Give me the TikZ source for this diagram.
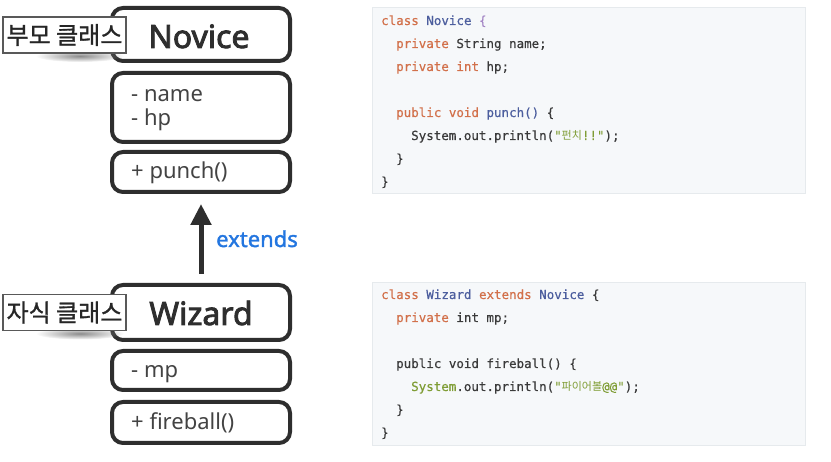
\documentclass[tikz,border=0pt]{standalone}
\usepackage{fontspec}
\setmainfont{Noto Sans}
\newfontfamily\heavy[FakeBold=2.6]{Noto Sans}
\newfontfamily\semiheavy[FakeBold=1.6]{Noto Sans}
\newfontfamily\krfont{Noto Sans CJK KR}
\newfontfamily\krtag[FakeBold=1.2]{Noto Sans CJK KR}
\newfontfamily\codefont[FakeBold=0.4]{DejaVu Sans Mono}
\usetikzlibrary{arrows.meta,fadings}
\definecolor{boxline}{HTML}{2E2E2E}
\definecolor{kwcol}{HTML}{D2704A}
\definecolor{clscol}{HTML}{4C5E9E}
\definecolor{brcol}{HTML}{A384C4}
\definecolor{txtcol}{HTML}{3A3A3A}
\definecolor{strcol}{HTML}{7F9D35}
\definecolor{codebg}{HTML}{F6F8FA}
\definecolor{codeedge}{HTML}{E6EAED}
\definecolor{extcol}{HTML}{2376E0}
\newcommand{\kwd}[1]{\textcolor{kwcol}{#1}}
\newcommand{\clsn}[1]{\textcolor{clscol}{#1}}
\newcommand{\brc}[1]{\textcolor{brcol}{#1}}
\newcommand{\strg}[1]{\textcolor{strcol}{#1}}
\newcommand{\dq}{\symbol{34}}
\newcommand{\krc}[1]{{\krfont\fontsize{11}{13}\selectfont #1}}
\tikzfading[name=fuzzyell, inner color=transparent!0, outer color=transparent!100]
\tikzset{
  umlbox/.style={draw=boxline, line width=4pt, rounded corners=11pt, fill=white, minimum width=178pt, inner sep=0pt},
  bigname/.style={anchor=base, inner sep=0pt, text=boxline, font=\heavy\fontsize{32}{36}\selectfont},
  member/.style={anchor=base west, inner sep=0pt, text=boxline!90, font=\fontsize{22}{25}\selectfont},
  tagbox/.style={draw=black!65, line width=1.2pt, fill=white, minimum width=123pt, minimum height=36pt, inner sep=0pt, font=\krtag\fontsize{24}{28}\selectfont, text=black!85},
  codebox/.style={draw=codeedge, line width=0.6pt, fill=codebg, minimum width=433pt, inner sep=0pt},
  codeln/.style={anchor=base west, inner sep=0pt, text=txtcol, font=\codefont\fontsize{12.5}{15}\selectfont},
  inherit/.style={draw=boxline, line width=5pt, -{Triangle[width=20pt,length=21pt]}}
}
\begin{document}
\begin{tikzpicture}[x=1pt,y=-1pt]
\useasboundingbox (0,0) rectangle (831,462);
\fill[white] (0,0) rectangle (831,462);

% left UML boxes
\node[umlbox, minimum height=53pt] (novice) at (201,34.5) {};
\node[umlbox, minimum height=69pt] (nfields) at (201,107.5) {};
\node[umlbox, minimum height=40pt] (nmethods) at (201,172) {};
\node[umlbox, minimum height=55pt] (wizard) at (201,312.5) {};
\node[umlbox, minimum height=39pt] (wfields) at (201,370.5) {};
\node[umlbox, minimum height=41pt] (wmethods) at (201,422.5) {};

\node[bigname] (novicetxt) at (199,48) {Novice};
\node[bigname] (wizardtxt) at (201,325) {Wizard};
\node[member] (fname) at (131,102) {- name};
\node[member] (fhp) at (131,126) {- hp};
\node[member] (mpunch) at (131,179) {+ punch()};
\node[member] (fmp) at (131,378) {- mp};
\node[member] (mfire) at (131,430) {+ fireball()};

% inheritance arrow
\draw[inherit, shorten <=9pt, shorten >=10pt] (wizard.north) -- (nmethods.south);
\node[anchor=base west, inner sep=0pt, text=extcol, font=\semiheavy\fontsize{22}{26}\selectfont] (exttxt) at (216,247) {extends};

% tags with shadows
\fill[black!45, path fading=fuzzyell] (80,56) ellipse [x radius=44pt, y radius=6pt];
\node[tagbox] (parenttag) at (64.5,35) {부모 클래스};
\fill[black!45, path fading=fuzzyell] (80,333.5) ellipse [x radius=44pt, y radius=6pt];
\node[tagbox] (childtag) at (64.5,312.5) {자식 클래스};

% code panels
\node[codebox, minimum height=186pt] (code1) at (588.5,100) {};
\node[codebox, minimum height=163pt] (code2) at (588.5,363.5) {};

\node[codeln] (a1) at (381,25) {\kwd{class} \clsn{Novice} \brc{\{}};
\node[codeln] (a2) at (396,48) {\kwd{private} String name;};
\node[codeln] (a3) at (396,71) {\kwd{private int} hp;};
\node[codeln] (a4) at (396,117) {\kwd{public void} \clsn{punch()} \{};
\node[codeln] (a5) at (411,140) {System.out.println(\strg{\dq\krc{펀치}!!\dq});};
\node[codeln] (a6) at (396,163) {\}};
\node[codeln] (a7) at (381,186) {\}};

\node[codeln] (b1) at (381,299) {\kwd{class} \clsn{Wizard} \kwd{extends} \clsn{Novice} \{};
\node[codeln] (b2) at (396,322) {\kwd{private} int mp;};
\node[codeln] (b3) at (396,368) {public void fireball() \{};
\node[codeln] (b4) at (411,391) {\strg{System}.out.println(\strg{\dq\krc{파이어볼}@@\dq});};
\node[codeln] (b5) at (396,414) {\}};
\node[codeln] (b6) at (381,437) {\}};
\end{tikzpicture}
\end{document}
